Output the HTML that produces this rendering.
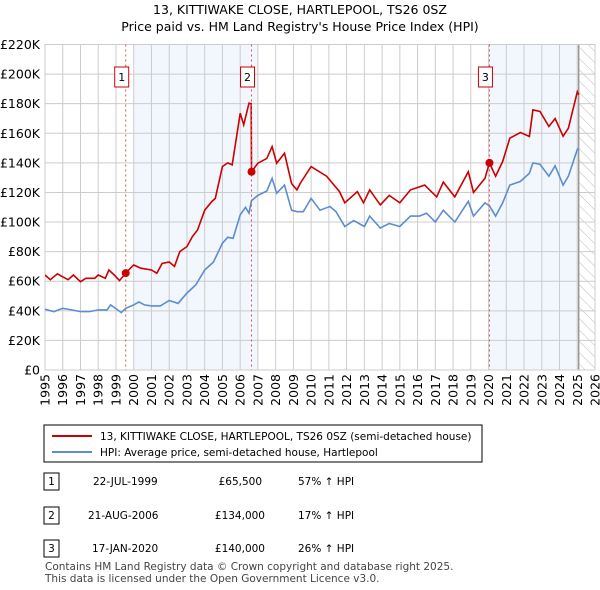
<!DOCTYPE html>
<html><head><meta charset="utf-8"><style>
body{margin:0;background:#fff;font-family:"Liberation Sans","DejaVu Sans",sans-serif;}
#wrap{position:relative;width:600px;height:590px;overflow:hidden;}
</style></head><body>
<div id="wrap">
<svg id="chart" width="600" height="590" xmlns="http://www.w3.org/2000/svg" font-family="DejaVu Sans, Liberation Sans, sans-serif">
<text x="300" y="14" text-anchor="middle" font-size="12.5" fill="#000">13, KITTIWAKE CLOSE, HARTLEPOOL, TS26 0SZ</text>
<text x="300" y="31" text-anchor="middle" font-size="12.5" fill="#000">Price paid vs. HM Land Registry's House Price Index (HPI)</text>
<defs><pattern id="hatch" width="8" height="8" patternUnits="userSpaceOnUse" patternTransform="rotate(-45)"><line x1="0" y1="0" x2="0" y2="8" stroke="#bbb" stroke-width="1"/></pattern>
<clipPath id="clip"><rect x="45" y="44" width="550" height="326"/></clipPath></defs>
<g id="bg"></g><g id="grid"></g><g id="lines" clip-path="url(#clip)"></g><g id="marks"></g><g id="axes"></g>
<rect x="44" y="425" width="438" height="37" fill="#fff" stroke="#000" stroke-width="1"/>
<line x1="52" y1="436" x2="92" y2="436" stroke="#cc0000" stroke-width="2"/>
<text x="100" y="440" font-size="10.5">13, KITTIWAKE CLOSE, HARTLEPOOL, TS26 0SZ (semi-detached house)</text>
<line x1="52" y1="452" x2="92" y2="452" stroke="#5b8dd0" stroke-width="2"/>
<text x="100" y="456" font-size="10.5">HPI: Average price, semi-detached house, Hartlepool</text>
<g font-size="10.5">
<rect x="44" y="473" width="15" height="17" fill="#fff" stroke="#000"/><text x="51.5" y="485" text-anchor="middle">1</text>
<text x="93" y="485">22-JUL-1999</text><text x="262" y="485" text-anchor="end">£65,500</text><text x="298" y="485">57% ↑ HPI</text>
<rect x="44" y="507" width="15" height="17" fill="#fff" stroke="#000"/><text x="51.5" y="519" text-anchor="middle">2</text>
<text x="88" y="519">21-AUG-2006</text><text x="265" y="519" text-anchor="end">£134,000</text><text x="298" y="519">17% ↑ HPI</text>
<rect x="44" y="540" width="15" height="17" fill="#fff" stroke="#000"/><text x="51.5" y="552" text-anchor="middle">3</text>
<text x="92" y="552">17-JAN-2020</text><text x="265" y="552" text-anchor="end">£140,000</text><text x="298" y="552">26% ↑ HPI</text>
</g>
<text x="45" y="570" font-size="10.5" fill="#444">Contains HM Land Registry data © Crown copyright and database right 2025.</text>
<text x="45" y="582" font-size="10.5" fill="#444">This data is licensed under the Open Government Licence v3.0.</text>
</svg>
</div>
<script>
const hpiYears=[1995.0,1995.5,1996.0,1996.5,1997.0,1997.5,1998.0,1998.5,1998.7,1999.3,1999.55,2000.0,2000.3,2000.6,2001.0,2001.5,2002.0,2002.5,2003.0,2003.5,2004.0,2004.5,2005.0,2005.3,2005.6,2006.0,2006.3,2006.5,2006.64,2007.0,2007.5,2007.8,2008.06,2008.5,2008.9,2009.2,2009.56,2010.0,2010.5,2011.06,2011.4,2011.9,2012.4,2013.0,2013.3,2013.9,2014.4,2015.0,2015.6,2016.1,2016.5,2017.0,2017.45,2018.1,2018.86,2019.15,2019.8,2020.05,2020.4,2020.8,2021.2,2021.8,2022.3,2022.5,2022.9,2023.4,2023.75,2024.2,2024.5,2025.0,2025.08];
const hpiValues=[41,39.5,41.7,40.6,39.5,39.5,40.6,40.6,44,38.8,41.7,44,46,44,43.3,43.3,47,45,52,57.5,67.6,73,85.7,89.7,89,104.8,110,106,114.5,118,121,129.6,119.5,125,108,107,107,116,108,110.5,107,97,101,97,104,96,99,97,104,104,106,100,108,100,114,104,113,111,104,113,125,127.5,133,140,139,131,138,125,131,149,150];
const priceYears=[1995.0,1995.3,1995.7,1996.0,1996.3,1996.6,1997.0,1997.3,1997.8,1998.0,1998.4,1998.6,1998.9,1999.2,1999.55,2000.0,2000.4,2001.0,2001.3,2001.6,2002.0,2002.3,2002.6,2003.0,2003.3,2003.6,2004.0,2004.4,2004.6,2005.0,2005.3,2005.55,2005.8,2006.0,2006.2,2006.5,2006.62,2006.64,2007.0,2007.5,2007.8,2008.06,2008.5,2008.9,2009.2,2009.38,2010.0,2010.87,2011.6,2011.9,2012.6,2012.95,2013.3,2013.9,2014.4,2015.0,2015.6,2016.4,2017.08,2017.45,2018.1,2018.86,2019.15,2019.8,2020.05,2020.4,2020.8,2021.2,2021.8,2022.3,2022.5,2022.9,2023.4,2023.75,2024.2,2024.5,2025.0,2025.08];
const priceValues=[64.2,61,65,63,61,64.2,59.7,62,62,64.2,62,67.6,64.2,60.4,65.5,71,68.8,67.6,65.4,72,73,70,80,83.4,90,94.7,108,113.8,116,137.5,140,138.6,157.8,173.6,165.7,180.3,180,134,139.8,143,151,139.8,146.5,126,121.7,126,137.5,131,120.6,113,120.6,113,121.7,111.6,118,113,121.7,125,117,127,117,134,120,129.6,140,131,141,156.7,160.5,157.8,175.8,174.7,164.6,170,158,163.4,188,186];
const saleYears=[1999.55,2006.64,2020.05];
const saleValues=[65.5,134,140];
const saleLabels=["1","2","3"];
const yTicks=[0,20,40,60,80,100,120,140,160,180,200,220];
const yTickLabels=["£0","£20K","£40K","£60K","£80K","£100K","£120K","£140K","£160K","£180K","£200K","£220K"];
const xTicks=[1995,1996,1997,1998,1999,2000,2001,2002,2003,2004,2005,2006,2007,2008,2009,2010,2011,2012,2013,2014,2015,2016,2017,2018,2019,2020,2021,2022,2023,2024,2025,2026];
const shadeRanges=[[2000,2007],[2020,2025.05]];
const forecastStart=2025.08;

const X0=45,X1=595,Y0=370,Y1=44.5,xMin=1995,xMax=2026,yMax=220;
const xs=v=>X0+(v-xMin)/(xMax-xMin)*(X1-X0);
const ys=v=>Y0-v/yMax*(Y0-Y1);
const NS="http://www.w3.org/2000/svg";
function mk(tag,attrs,parent){const e=document.createElementNS(NS,tag);for(const k in attrs)e.setAttribute(k,attrs[k]);document.getElementById(parent).appendChild(e);return e;}

shadeRanges.forEach((r,i)=>{const e=mk('rect',{x:xs(r[0]),y:Y1,width:xs(r[1])-xs(r[0]),height:Y0-Y1,fill:'#eef3fc',opacity:0.75},'bg');

});
const fh=mk('rect',{x:xs(forecastStart),y:Y1,width:X1-xs(forecastStart),height:Y0-Y1,fill:'url(#hatch)'},'bg');


yTicks.forEach((t,i)=>{const l=mk('line',{x1:X0,x2:X1,y1:ys(t),y2:ys(t),stroke:'#cccccc','stroke-width':1},'grid');


const tx=mk('text',{x:40,y:ys(t)+4.5,'text-anchor':'end','font-size':12.5,fill:'#000'},'axes');tx.textContent=yTickLabels[i];

});
xTicks.forEach(t=>{const l=mk('line',{x1:xs(t),x2:xs(t),y1:Y1,y2:Y0,stroke:'#cccccc','stroke-width':1},'grid');


const tx=mk('text',{x:0,y:0,'text-anchor':'end','font-size':12.5,fill:'#000',transform:`translate(${xs(t)+4.5},${Y0+4}) rotate(-90)`},'axes');tx.textContent=t;

});
const fl=mk('line',{x1:xs(forecastStart),x2:xs(forecastStart),y1:Y1,y2:Y0,stroke:'#999','stroke-width':1.5},'grid');


function path(xa,va){return xa.map((x,i)=>(i?'L':'M')+xs(x).toFixed(1)+','+ys(va[i]).toFixed(1)).join('');}
const hp=mk('path',{d:path(hpiYears,hpiValues),fill:'none',stroke:'#5b8dd0','stroke-width':1.6},'lines');


const pp=mk('path',{d:path(priceYears,priceValues),fill:'none',stroke:'#cc0000','stroke-width':1.6},'lines');


saleYears.forEach((y,i)=>{const l=mk('line',{x1:xs(y),x2:xs(y),y1:Y1,y2:Y0,stroke:'#e05050','stroke-width':1,'stroke-dasharray':'2,3'},'marks');


const c=mk('circle',{cx:xs(y),cy:ys(saleValues[i]),r:4,fill:'#cc0000'},'marks');


const b=mk('rect',{x:xs(y)-11,y:67,width:14,height:20,fill:'#fff',stroke:'#cc0000','stroke-width':1},'marks');


const t=mk('text',{x:xs(y)-4,y:81,'text-anchor':'middle','font-size':11},'marks');t.textContent=saleLabels[i];

});
const fr=mk('rect',{x:X0,y:Y1,width:X1-X0,height:Y0-Y1,fill:'none',stroke:'#cccccc'},'grid');


</script>
</body></html>
